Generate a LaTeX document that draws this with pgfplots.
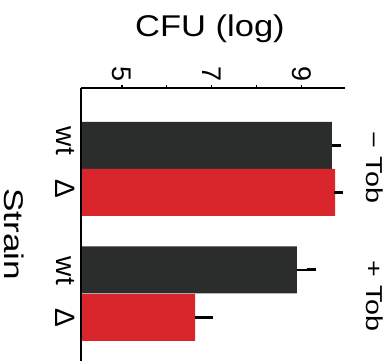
\documentclass[border=0pt]{standalone}
\usepackage{pgfplots}
\pgfplotsset{compat=1.18}
\usepackage{fontspec}
\setmainfont{Liberation Sans}
\usepackage{graphicx}
\definecolor{barDark}{HTML}{2A2D2B}
\definecolor{barRed}{HTML}{D8262C}
\begin{document}
\begin{tikzpicture}
\useasboundingbox (0,0) rectangle (392pt,361pt);
\begin{axis}[
  at={(81pt,0pt)}, anchor=south west,
  scale only axis, width=264pt, height=273pt,
  xmin=4.09, xmax=9.96, ymin=0, ymax=273,
  axis x line*=top, axis y line*=left,
  axis line style={black, line width=1.3pt},
  xtick={5,6,7,8,9}, xticklabels={5,,7,,9},
  tick align=outside, major tick length=3pt,
  xtick style={black, line width=1.2pt},
  xticklabel style={rotate=-90, anchor=east, font=\fontsize{27}{30}\selectfont},
  ytick={220,172,90,43}, yticklabels={wt,Δ,wt,Δ},
  ytick style={draw=none},
  yticklabel style={rotate=-90, anchor=north, font=\fontsize{28}{32}\selectfont},
  xbar, bar shift=0pt, bar width=47,
  axis on top,
  /pgf/number format/assume math mode=true,
]
\addplot[fill=barDark, draw=none,
  error bars/.cd, x dir=plus, x explicit,
  error bar style={black, line width=2.6pt},
  error mark options={black, line width=3pt, mark size=4.5pt}]
  coordinates {(9.67,215.5) +- (0.11,0) (8.89,91) +- (0.33,0)};
\addplot[fill=barRed, draw=none,
  error bars/.cd, x dir=plus, x explicit,
  error bar style={black, line width=2.6pt},
  error mark options={black, line width=3pt, mark size=4.5pt}]
  coordinates {(9.74,168.5) +- (0.08,0) (6.63,43.5) +- (0.30,0)};
\end{axis}
\node[anchor=base, font=\fontsize{30}{34}\selectfont] at (210pt,324.5pt) {\scalebox{1.15}[1]{CFU (log)}};
\node[rotate=-90, font=\fontsize{27}{30}\selectfont] at (14pt,127pt) {\scalebox{1.3}[1]{Strain}};
\node[rotate=-90, font=\fontsize{23}{28}\selectfont] at (375pt,193.5pt) {\scalebox{1.25}[1]{− Tob}};
\node[rotate=-90, font=\fontsize{23}{28}\selectfont] at (375pt,65pt) {\scalebox{1.25}[1]{+ Tob}};
\end{tikzpicture}
\end{document}
